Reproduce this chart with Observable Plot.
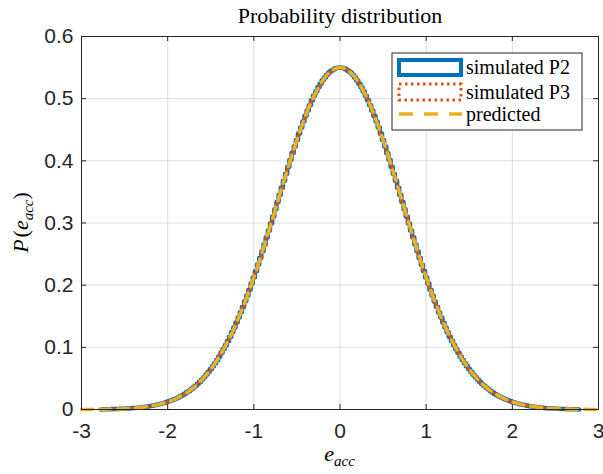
<!DOCTYPE html>
<html>
<head>
<meta charset="utf-8">
<script src="https://cdn.jsdelivr.net/npm/d3@7"></script>
<script src="https://cdn.jsdelivr.net/npm/@observablehq/plot@0.6"></script>
<style>
  html, body { margin: 0; padding: 0; background: #fff; }
  #chart svg { display: block; }
</style>
</head>
<body>
<div id="chart"></div>
<script>
// ---- data ----
const titleText = "Probability distribution";
const legendLabels = ["simulated P2", "simulated P3", "predicted"];
const xTicks = [-3, -2, -1, 0, 1, 2, 3];
const yTicks = [0, 0.1, 0.2, 0.3, 0.4, 0.5, 0.6];

// histogram bins (centres from binStart, spacing binWidth)
const binStart = -2.75;
const binWidth = 0.025;
const simP2 = [
  .0004,.0005,.0005,.0006,.0007,.0008,.0009,.0010,.0012,.0013,
  .0014,.0016,.0018,.0021,.0023,.0026,.0029,.0033,.0036,.0040,
  .0045,.0050,.0056,.0061,.0068,.0075,.0084,.0092,.0101,.0111,
  .0123,.0135,.0148,.0163,.0177,.0194,.0213,.0231,.0252,.0276,
  .0299,.0325,.0352,.0381,.0414,.0446,.0483,.0520,.0561,.0602,
  .0648,.0694,.0745,.0797,.0853,.0911,.0973,.1035,.1103,.1172,
  .1245,.1319,.1399,.1479,.1564,.1650,.1741,.1832,.1928,.2025,
  .2125,.2227,.2332,.2437,.2546,.2655,.2767,.2879,.2993,.3106,
  .3222,.3336,.3452,.3566,.3681,.3793,.3906,.4016,.4126,.4232,
  .4337,.4438,.4537,.4632,.4725,.4811,.4896,.4974,.5050,.5118,
  .5184,.5241,.5296,.5342,.5385,.5419,.5449,.5471,.5488,.5497,
  .5503,
  .5497,.5486,.5471,.5447,.5419,.5383,.5342,.5294,.5241,.5182,
  .5118,.5048,.4974,.4894,.4811,.4723,.4632,.4535,.4438,.4335,
  .4232,.4124,.4016,.3904,.3793,.3679,.3566,.3450,.3336,.3220,
  .3106,.2991,.2879,.2765,.2655,.2544,.2437,.2330,.2227,.2123,
  .2025,.1926,.1832,.1739,.1650,.1562,.1479,.1397,.1319,.1243,
  .1172,.1101,.1035,.0971,.0911,.0851,.0797,.0743,.0694,.0646,
  .0602,.0559,.0520,.0481,.0446,.0412,.0381,.0351,.0324,.0298,
  .0275,.0251,.0231,.0211,.0194,.0176,.0162,.0147,.0135,.0121,
  .0111,.0100,.0092,.0082,.0075,.0067,.0061,.0054,.0050,.0044,
  .0040,.0035,.0032,.0028,.0026,.0022,.0020,.0017,.0016,.0013,
  .0013,.0010,.0010,.0008,.0008,.0006,.0006,.0004,.0005,.0003
];
const simP3 = [
  .0003,.0005,.0006,.0006,.0008,.0008,.0010,.0010,.0011,.0013,
  .0015,.0016,.0019,.0020,.0024,.0026,.0030,.0032,.0037,.0040,
  .0046,.0050,.0055,.0062,.0067,.0076,.0082,.0093,.0100,.0112,
  .0121,.0136,.0147,.0162,.0178,.0193,.0212,.0232,.0251,.0275,
  .0300,.0324,.0353,.0380,.0413,.0447,.0481,.0521,.0559,.0603,
  .0646,.0695,.0743,.0798,.0851,.0912,.0971,.1036,.1101,.1173,
  .1243,.1320,.1397,.1480,.1562,.1651,.1739,.1833,.1926,.2026,
  .2123,.2228,.2330,.2438,.2544,.2656,.2765,.2880,.2991,.3107,
  .3220,.3337,.3450,.3567,.3679,.3794,.3904,.4017,.4124,.4233,
  .4335,.4439,.4535,.4633,.4723,.4812,.4894,.4975,.5048,.5119,
  .5182,.5242,.5294,.5343,.5383,.5420,.5447,.5472,.5486,.5498,
  .5497,
  .5498,.5488,.5472,.5449,.5420,.5385,.5343,.5296,.5242,.5184,
  .5119,.5050,.4975,.4896,.4812,.4725,.4633,.4537,.4439,.4337,
  .4233,.4126,.4017,.3906,.3794,.3681,.3567,.3452,.3337,.3222,
  .3107,.2993,.2880,.2767,.2656,.2546,.2438,.2332,.2228,.2125,
  .2026,.1928,.1833,.1741,.1651,.1564,.1480,.1399,.1320,.1245,
  .1173,.1103,.1036,.0973,.0912,.0853,.0798,.0745,.0695,.0648,
  .0603,.0561,.0521,.0483,.0447,.0414,.0380,.0353,.0325,.0300,
  .0276,.0253,.0232,.0213,.0193,.0178,.0163,.0149,.0136,.0123,
  .0112,.0102,.0093,.0084,.0076,.0069,.0062,.0056,.0051,.0046,
  .0041,.0037,.0033,.0030,.0027,.0024,.0021,.0019,.0017,.0015,
  .0014,.0012,.0011,.0010,.0009,.0008,.0007,.0006,.0005,.0004
];
// predicted density, sampled from predStart every predStep
const predStart = -3;
const predStep = 0.1;
const predicted = [
  .0001,.0002,.0003,.0005,.0009,.0014,.0023,.0036,.0055,.0083,
  .0122,.0177,.0252,.0352,.0482,.0647,.0852,.1102,.1398,.1740,
  .2124,.2545,.2992,.3451,.3905,.4336,.4724,.5049,.5295,.5448,
  .5500,
  .5448,.5295,.5049,.4724,.4336,.3905,.3451,.2992,.2545,.2124,
  .1740,.1398,.1102,.0852,.0647,.0482,.0352,.0252,.0177,.0122,
  .0083,.0055,.0036,.0023,.0014,.0009,.0005,.0003,.0002,.0001
];

// ---- tables for the library ----
const binRows = (vals) => {
  const rows = vals.map((v, i) => ({x: binStart + i * binWidth, y: v}));
  rows.unshift({x: binStart - binWidth, y: 0});
  rows.push({x: binStart + vals.length * binWidth, y: 0});
  return rows;
};
const p2Rows = binRows(simP2);
const p3Rows = binRows(simP3);
const predRows = predicted.map((v, i) => ({x: predStart + i * predStep, y: v}));

const C_BLUE = "#0072BD", C_ORANGE = "#D95319", C_YELLOW = "#EDB120";
const AX = "#262626";
const W = 603, H = 474;
const M = {top: 36, right: 5, bottom: 65, left: 81};
const frameW = W - M.left - M.right, frameH = H - M.top - M.bottom;
const tickLen = 5;
const serif = "'Liberation Serif', 'DejaVu Serif', serif";
const fmt = d => String(d);

const plot = Plot.plot({
  width: W,
  height: H,
  marginTop: M.top,
  marginRight: M.right,
  marginBottom: M.bottom,
  marginLeft: M.left,
  style: {fontFamily: "'Liberation Sans', Arial, sans-serif", background: "#fff", color: AX},
  x: {domain: [-3, 3]},
  y: {domain: [0, 0.6]},
  marks: [
    Plot.gridX(xTicks, {stroke: AX, strokeOpacity: 0.15}),
    Plot.gridY(yTicks, {stroke: AX, strokeOpacity: 0.15}),
    Plot.line(p2Rows, {x: "x", y: "y", curve: "step", stroke: C_BLUE, strokeWidth: 4.5}),
    Plot.line(p3Rows, {x: "x", y: "y", curve: "step", stroke: C_ORANGE, strokeWidth: 3, strokeDasharray: "2.5,3.5"}),
    Plot.line(predRows, {x: "x", y: "y", curve: "natural", stroke: C_YELLOW, strokeWidth: 3.5, strokeDasharray: "11,7"}),
    Plot.tickX(xTicks, {x: d => d, stroke: AX, insetTop: frameH - tickLen}),
    Plot.tickX(xTicks, {x: d => d, stroke: AX, insetBottom: frameH - tickLen}),
    Plot.tickY(yTicks, {y: d => d, stroke: AX, insetLeft: frameW - tickLen}),
    Plot.tickY(yTicks, {y: d => d, stroke: AX, insetRight: frameW - tickLen}),
    Plot.axisX(xTicks, {tickSize: 0, tickPadding: 14, fontSize: 21, label: null, color: AX, tickFormat: fmt}),
    Plot.axisY(yTicks, {tickSize: 0, tickPadding: 8, fontSize: 21, label: null, color: AX, tickFormat: fmt}),
    Plot.frame({stroke: AX, strokeWidth: 1}),
    Plot.text([titleText], {frameAnchor: "top", dy: -21, fontSize: 22, fontFamily: serif, fill: "#000", lineAnchor: "middle"})
  ]
});
document.getElementById("chart").appendChild(plot);

// ---- labels with subscripts and legend (drawn into the same SVG) ----
const svg = d3.select(plot);
const xs = plot.scale("x"), ys = plot.scale("y");
const cx = (xs.range[0] + xs.range[1]) / 2;
const cy = (ys.range[0] + ys.range[1]) / 2;

const xl = svg.append("text")
  .attr("x", cx).attr("y", ys.range[0] + 52)
  .attr("text-anchor", "middle")
  .attr("font-family", serif).attr("font-style", "italic").attr("font-size", 22).attr("fill", "#000");
xl.append("tspan").text("e");
xl.append("tspan").attr("dy", 5).attr("font-size", 15).text("acc");

const yl = svg.append("text")
  .attr("transform", `translate(${M.left - 53},${cy}) rotate(-90)`)
  .attr("text-anchor", "middle")
  .attr("font-family", serif).attr("font-style", "italic").attr("font-size", 22).attr("fill", "#000");
yl.append("tspan").text("P");
yl.append("tspan").attr("font-style", "normal").attr("dx", 2).text("(");
yl.append("tspan").text("e");
yl.append("tspan").attr("dy", 5).attr("font-size", 15).text("acc");
yl.append("tspan").attr("dy", -5).attr("font-style", "normal").text(")");

// legend
const lg = svg.append("g").attr("transform", `translate(${M.left + 311},${M.top + 17})`);
lg.append("rect").attr("x", 0).attr("y", 0).attr("width", 190).attr("height", 77)
  .attr("fill", "#fff").attr("stroke", AX).attr("stroke-width", 1);
lg.append("rect").attr("x", 7).attr("y", 7).attr("width", 62).attr("height", 15)
  .attr("fill", "none").attr("stroke", C_BLUE).attr("stroke-width", 4);
lg.append("rect").attr("x", 7).attr("y", 31).attr("width", 62).attr("height", 16)
  .attr("fill", "none").attr("stroke", C_ORANGE).attr("stroke-width", 3).attr("stroke-dasharray", "2.5,3.5");
lg.append("line").attr("x1", 7).attr("x2", 70).attr("y1", 61).attr("y2", 61)
  .attr("stroke", C_YELLOW).attr("stroke-width", 3.5).attr("stroke-dasharray", "14,11");
legendLabels.forEach((t, i) => {
  lg.append("text").attr("x", 74).attr("y", [21, 46, 68][i]).attr("text-anchor", "start")
    .attr("font-family", serif).attr("font-size", 20).attr("fill", "#000").text(t);
});
</script>
</body>
</html>
